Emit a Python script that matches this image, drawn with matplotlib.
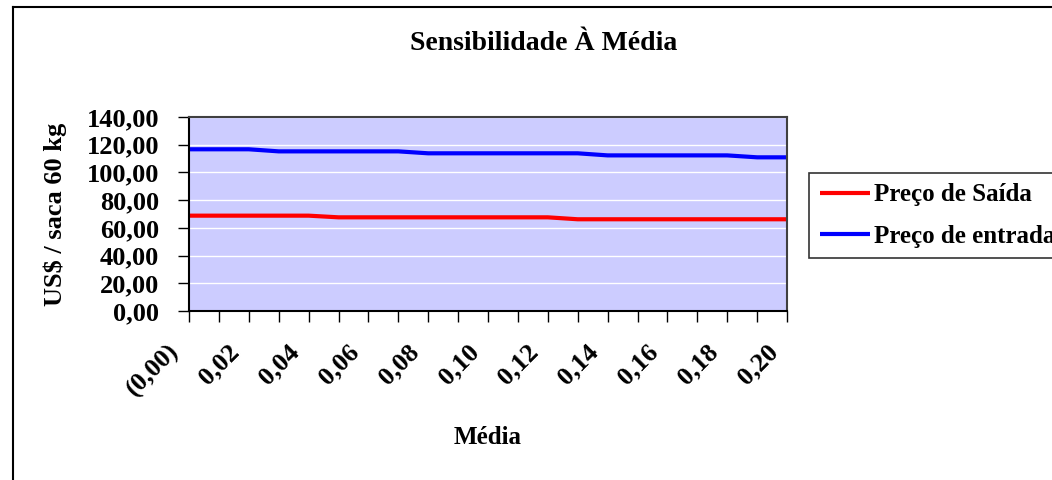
import matplotlib
matplotlib.use("Agg")
import matplotlib.pyplot as plt
from matplotlib.lines import Line2D

# Sensitivity of entry/exit prices to the mean
media = [0.00, 0.01, 0.02, 0.03, 0.04, 0.05, 0.06, 0.07, 0.08, 0.09, 0.10,
         0.11, 0.12, 0.13, 0.14, 0.15, 0.16, 0.17, 0.18, 0.19, 0.20]
preco_saida = [68.8, 68.8, 68.8, 68.8, 68.8, 67.6, 67.6, 67.6, 67.6, 67.6, 67.6,
               67.6, 67.6, 66.2, 66.2, 66.2, 66.2, 66.2, 66.2, 66.2, 66.2]
preco_entrada = [116.7, 116.7, 116.7, 115.2, 115.2, 115.2, 115.2, 115.2, 113.8, 113.8, 113.8,
                 113.8, 113.8, 113.8, 112.3, 112.3, 112.3, 112.3, 112.3, 110.9, 110.9]
y_ticks = [0, 20, 40, 60, 80, 100, 120, 140]

W, H = 1052, 480
PX = 0.72  # points per pixel at 100 dpi
plt.rcParams['font.family'] = ['Liberation Serif', 'DejaVu Serif']
plt.rcParams['font.weight'] = 'bold'

fig = plt.figure(figsize=(W / 100, H / 100), dpi=100)
fig.patch.set_facecolor('white')

# chart area border (left and top edges visible)
fig.add_artist(Line2D([13 / W, 13 / W], [0, 1 - 7 / H], transform=fig.transFigure,
                      color='black', lw=1.5))
fig.add_artist(Line2D([13 / W, 1], [1 - 7 / H, 1 - 7 / H], transform=fig.transFigure,
                      color='black', lw=1.5))

left, right, top, bottom = 189, 787, 117, 311
ax = fig.add_axes([left / W, 1 - bottom / H, (right - left) / W, (bottom - top) / H])
ax.set_facecolor('#ccccff')

idx = list(range(len(media)))
l1, = ax.plot(idx, preco_saida, color='#ff0000', lw=3, solid_capstyle='butt')
l2, = ax.plot(idx, preco_entrada, color='#0000ff', lw=3, solid_capstyle='butt')

ax.set_xlim(0, len(media) - 1)
ax.set_ylim(0, 140)
ax.set_yticks(y_ticks)
ax.set_yticklabels([f"{v:.2f}".replace('.', ',') for v in y_ticks], fontsize=19, fontweight='bold')
ax.yaxis.grid(True, color='white', lw=1)
ax.set_axisbelow(True)

# category ticks at every point, rotated labels on every other one
ax.set_xticks(idx)
ax.set_xticklabels([])
for i, m in enumerate(media):
    if i % 2 == 0:
        s = '(0,00)' if i == 0 else f"{m:.2f}".replace('.', ',')
        ax.annotate(s, xy=(i, 0), xycoords=('data', 'axes fraction'),
                    xytext=(-13 * PX, -37 * PX), textcoords='offset points',
                    rotation=45, rotation_mode='anchor', ha='right', va='center',
                    fontsize=19, fontweight='bold')
ax.tick_params(axis='x', length=8, width=1, color='black')
ax.tick_params(axis='y', length=8, width=1, color='black', pad=13.5)

for side in ['top', 'right']:
    ax.spines[side].set_color('#404040')
    ax.spines[side].set_linewidth(1.5)
for side in ['left', 'bottom']:
    ax.spines[side].set_color('black')
    ax.spines[side].set_linewidth(1.5)

fig.text(544 / W, 1 - 44 / H, 'Sensibilidade À Média', ha='center', va='center',
         fontsize=20, fontweight='bold')
fig.text(488 / W, 1 - 437 / H, 'Média', ha='center', va='center',
         fontsize=18, fontweight='bold')
fig.text(55 / W, 1 - 214 / H, 'US$ / saca 60 kg', ha='center', va='center',
         rotation=90, fontsize=19, fontweight='bold')

leg = fig.legend([l1, l2], ['Preço de Saída', 'Preço de entrada'],
                 loc='upper left', bbox_to_anchor=(809 / W, 1 - 173 / H),
                 prop={'family': 'Liberation Serif', 'weight': 'bold', 'size': 18},
                 frameon=True, fancybox=False, shadow=False,
                 handlelength=2.0, handletextpad=0.2, borderaxespad=0,
                 borderpad=0.42, labelspacing=0.72)
leg.get_frame().set_edgecolor('black')
leg.get_frame().set_linewidth(1.2)
leg.get_frame().set_facecolor('white')

fig.savefig('out.png', dpi=100)
